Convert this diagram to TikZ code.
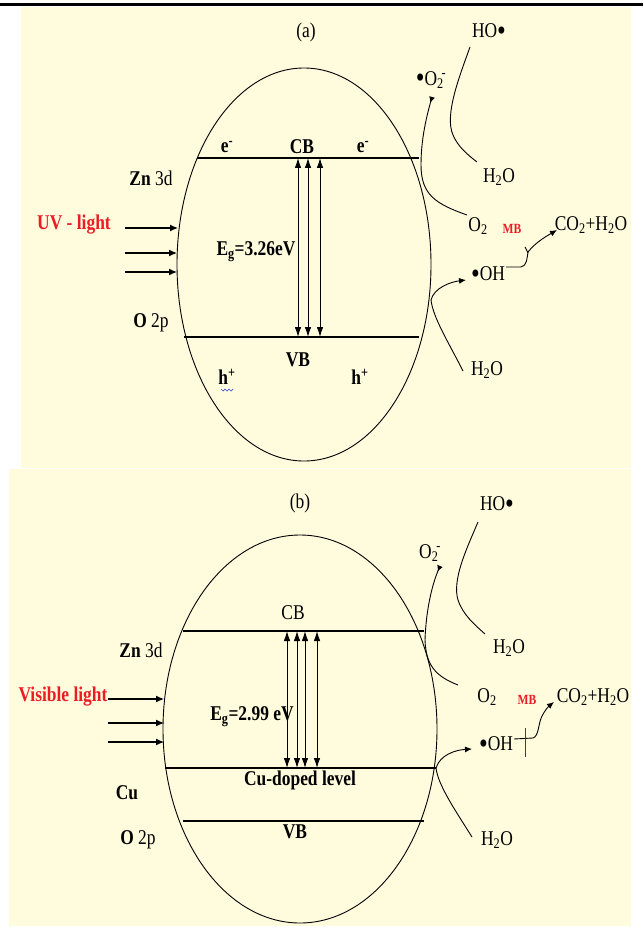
\documentclass[tikz,border=0pt]{standalone}
\usepackage{fontspec}
\setmainfont{Liberation Serif}[FakeStretch=0.83]
\usetikzlibrary{arrows.meta}
\definecolor{bgyellow}{RGB}{255,251,221}
\definecolor{labred}{RGB}{236,28,36}
\definecolor{squig}{RGB}{60,80,220}
\newcommand{\bigdot}{\raisebox{-2.5pt}{\fontsize{30}{30}\selectfont •}}
\begin{document}
\begin{tikzpicture}[x=1pt,y=-1pt,
  txt/.style={inner sep=0pt, font=\fontsize{21}{23}\selectfont},
  btxt/.style={inner sep=0pt, font=\fontsize{21}{23}\selectfont\bfseries},
  mbtxt/.style={inner sep=0pt, font=\fontsize{14}{15}\selectfont\bfseries, text=labred},
  band/.style={line width=1.1pt},
  curve/.style={line width=0.9pt},
  lightarrow/.style={line width=1.2pt, -{Latex[length=8pt,width=7pt]}},
  dbl/.style={line width=0.9pt, {Latex[length=10pt,width=6.5pt]}-{Latex[length=10pt,width=6.5pt]}},
  tipc/.style={curve, -{Latex[length=7pt,width=6pt]}},
  tipr/.style={curve, -{Latex[length=6pt,width=6pt,reversed]}}]
% canvas
\fill[white] (0,0) rectangle (643,928);
\useasboundingbox (0,0) rectangle (643,928);
\fill[bgyellow] (21,7) rectangle (631,468);
\fill[bgyellow] (9,469) rectangle (631,926);
\draw[line width=2.5pt] (0,4.5) -- (643,4.5);

% ================= panel (a) =================
\draw[line width=0.9pt] (304,264.5) ellipse [x radius=127pt, y radius=196.5pt];
\coordinate (cbaL) at (197,158); \coordinate (cbaR) at (419,158);
\coordinate (vbaL) at (184,337); \coordinate (vbaR) at (419,337);
\draw[band] (cbaL) -- (cbaR);
\draw[band] (vbaL) -- (vbaR);
\foreach \i/\x in {1/298,2/308,3/320}{
  \coordinate (ta\i) at (\x,158); \coordinate (ba\i) at (\x,337);
  \draw[dbl] (ta\i) -- (ba\i);
}
\node[txt] (la) at (306,32) {(a)};
\node[txt] (hoa) at (489,32) {HO\bigdot};
\node[txt] (o2ra) at (431,80) {\bigdot O\textsubscript{2}\kern-0.1em\textsuperscript{-}};
\node[txt] (h2oa1) at (499,177) {H\textsubscript{2}O};
\node[btxt] (ea1) at (227,147) {e\textsuperscript{-}};
\node[btxt] (cba) at (302,147) {CB};
\node[btxt] (ea2) at (363,147) {e\textsuperscript{-}};
\node[txt] (zna) at (151,178) {\textbf{Zn} 3d};
\node[btxt, text=labred] (uv) at (74,225) {UV - light};
\node[btxt] (ega) at (256,252) {E\textsubscript{g}=3.26eV};
\node[txt] (o2a) at (478,226) {O\textsubscript{2}};
\node[mbtxt] (mba) at (512,229) {MB};
\node[txt] (co2a) at (591,225) {CO\textsubscript{2}+H\textsubscript{2}O};
\node[txt] (oha) at (488,275) {\bigdot OH};
\node[txt] (o2pa) at (151,323) {\textbf{O} 2p};
\node[btxt] (vba) at (298,360) {VB};
\node[btxt] (ha1) at (227,377) {h\textsuperscript{+}};
\node[btxt] (ha2) at (360,377) {h\textsuperscript{+}};
\node[txt] (h2oa2) at (487,370) {H\textsubscript{2}O};
\draw[squig, line width=0.7pt] (221,389) -- (223,391) -- (225,389) -- (227,391) -- (229,389) -- (231,391) -- (233,389);
% light arrows
\foreach \i/\y/\e in {1/228/178,2/253/177,3/272/177}{
  \coordinate (uvs\i) at (125,\y); \coordinate (uve\i) at (\e,\y);
  \draw[lightarrow] (uvs\i) -- (uve\i);
}
% curves (a)
\coordinate (o2aS) at (467,215);
\coordinate (o2aE) at (432,97);
\draw[tipr] (o2aS) .. controls (436,204) and (421,195) .. (421,165)
  .. controls (421,138) and (427,115) .. (o2aE);
\coordinate (hoaS) at (470,47);
\coordinate (hoaE) at (477,162);
\draw[curve] (hoaS) .. controls (460,75) and (444,115) .. (453,135)
  .. controls (458,147) and (468,155) .. (hoaE);
\coordinate (h2oaS) at (463,371);
\coordinate (ohaE) at (466,280);
\draw[tipc] (h2oaS) .. controls (450,345) and (433,318) .. (431,300)
  .. controls (434,288) and (450,282) .. (ohaE);
\coordinate (ohaR) at (506,267);
\coordinate (co2aE) at (557,230);
\draw[tipc] (ohaR) -- (521,267) .. controls (527,266) and (527,258) .. (528,252)
  .. controls (535,243) and (545,237) .. (co2aE);
\coordinate (tka1) at (525,247); \coordinate (tka2) at (528,253);
\draw[curve] (tka1) -- (tka2);

% ================= panel (b) =================
\draw[line width=0.9pt] (300,729) ellipse [x radius=137pt, y radius=194pt];
\coordinate (cbbL) at (183,631); \coordinate (cbbR) at (424,631);
\coordinate (cubL) at (165,768); \coordinate (cubR) at (436,768);
\coordinate (vbbL) at (183,821); \coordinate (vbbR) at (424,821);
\draw[band] (cbbL) -- (cbbR);
\draw[band] (cubL) -- (cubR);
\draw[band] (vbbL) -- (vbbR);
\foreach \i/\x in {1/287,2/297,3/305,4/317}{
  \coordinate (tb\i) at (\x,631); \coordinate (bb\i) at (\x,768);
  \draw[dbl] (tb\i) -- (bb\i);
}
\node[txt] (lb) at (300,503) {(b)};
\node[txt] (hob) at (497,505) {HO\bigdot};
\node[txt] (o2rb) at (430,553) {O\textsubscript{2}\kern-0.1em\textsuperscript{-}};
\node[txt] (cbb) at (293,613) {CB};
\node[txt] (znb) at (141,650) {\textbf{Zn} 3d};
\node[txt] (h2ob1) at (509,648) {H\textsubscript{2}O};
\node[btxt, text=labred] (vis) at (63,697) {Visible light};
\node[txt] (o2b) at (487,697) {O\textsubscript{2}};
\node[mbtxt] (mbb) at (527,700) {MB};
\node[txt] (co2b) at (593,697) {CO\textsubscript{2}+H\textsubscript{2}O};
\node[btxt] (egb) at (252,717) {E\textsubscript{g}=2.99 eV};
\node[txt] (ohb) at (496,745) {\bigdot OH};
\node[btxt] (cul) at (300,780) {Cu-doped level};
\node[btxt] (cub) at (127,793) {Cu};
\node[txt] (o2pb) at (138,840) {\textbf{O} 2p};
\node[btxt] (vbb) at (295,832) {VB};
\node[txt] (h2ob2) at (497,840) {H\textsubscript{2}O};
% light arrows
\foreach \i/\y in {1/699,2/723,3/742}{
  \coordinate (vls\i) at (108,\y); \coordinate (vle\i) at (164,\y);
  \draw[lightarrow] (vls\i) -- (vle\i);
}
% curves (b)
\coordinate (o2bS) at (458,685);
\coordinate (o2bE) at (440,566);
\draw[tipr] (o2bS) .. controls (435,676) and (426,665) .. (425,640)
  .. controls (426,610) and (432,585) .. (o2bE);
\coordinate (hobS) at (478,522);
\coordinate (hobE) at (485,634);
\draw[curve] (hobS) .. controls (466,550) and (452,580) .. (458,600)
  .. controls (463,615) and (475,625) .. (hobE);
\coordinate (h2obS) at (472,837);
\coordinate (ohbE) at (472,749);
\draw[tipc] (h2obS) .. controls (455,810) and (438,785) .. (436,768)
  .. controls (440,755) and (455,750) .. (ohbE);
\coordinate (ohbR) at (514,739);
\coordinate (co2bE) at (554,702);
\draw[tipc] (ohbR) -- (533,738) .. controls (539,736) and (538,724) .. (542,716)
  .. controls (545,710) and (549,706) .. (co2bE);
\coordinate (tkb1) at (525,728); \coordinate (tkb2) at (525,757);
\draw[curve, black!75] (tkb1) -- (tkb2);
\end{tikzpicture}
\end{document}
